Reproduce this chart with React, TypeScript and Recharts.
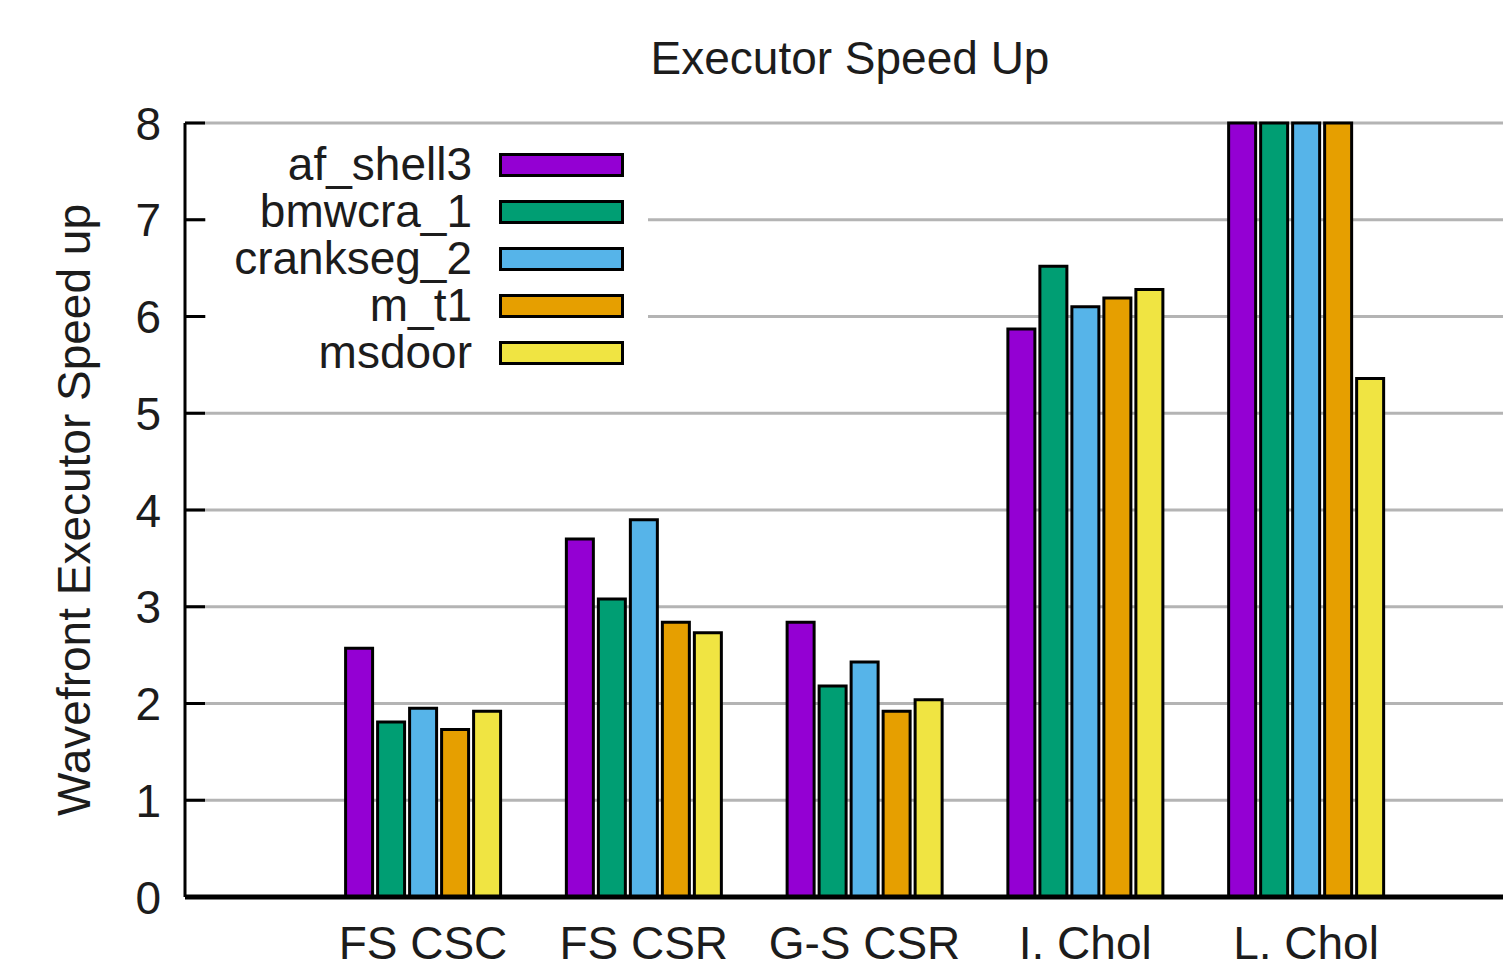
import React from 'react';
import { BarChart, Bar, XAxis, YAxis, CartesianGrid } from 'recharts';

const categories = ['FS CSC', 'FS CSR', 'G-S CSR', 'I. Chol', 'L. Chol'];
const afShell3 = [2.57, 3.7, 2.84, 5.87, 8];
const bmwcra1 = [1.81, 3.08, 2.18, 6.52, 8];
const crankseg2 = [1.95, 3.9, 2.43, 6.1, 8];
const mT1 = [1.73, 2.84, 1.92, 6.19, 8];
const msdoor = [1.92, 2.73, 2.04, 6.28, 5.36];
const yTicks = [0, 1, 2, 3, 4, 5, 6, 7, 8];

const series = [
  { key: 'af_shell3', values: afShell3, color: '#9400D3' },
  { key: 'bmwcra_1', values: bmwcra1, color: '#009E73' },
  { key: 'crankseg_2', values: crankseg2, color: '#56B4E9' },
  { key: 'm_t1', values: mT1, color: '#E69F00' },
  { key: 'msdoor', values: msdoor, color: '#F0E442' },
];

const data = categories.map((name, i) => {
  const row: Record<string, string | number> = { name };
  series.forEach(s => { row[s.key] = s.values[i]; });
  return row;
});

const FONT = '"Liberation Sans", Arial, sans-serif';
const TEXT = '#1c1c1c';

const YTick = (props: any) => {
  const { x, y, payload } = props;
  return (
    <g>
      <line x1={x} x2={x + 20} y1={y} y2={y} stroke="#000" strokeWidth={3} />
      <text x={x - 24} y={y} dy="0.36em" textAnchor="end" fontSize={46} fontFamily={FONT} fill={TEXT}>
        {payload.value}
      </text>
    </g>
  );
};

const XTick = (props: any) => {
  const { x, y, payload } = props;
  return (
    <text x={x} y={y + 54} textAnchor="middle" fontSize={46} fontFamily={FONT} fill={TEXT}>
      {payload.value}
    </text>
  );
};

// legend sits over the plot like gnuplot's opaque key box
const LegendBox = () => (
  <div
    style={{
      position: 'absolute',
      left: 206,
      top: 140,
      width: 442,
      height: 250,
      paddingTop: 1,
      background: '#fff',
      fontFamily: FONT,
      zIndex: 2,
    }}
  >
    {series.map(s => (
      <div key={s.key} style={{ display: 'flex', alignItems: 'center', height: 47 }}>
        <div style={{ width: 266, textAlign: 'right', fontSize: 46, color: TEXT, lineHeight: '47px' }}>{s.key}</div>
        <div
          style={{
            marginLeft: 27,
            width: 125,
            height: 24,
            boxSizing: 'border-box',
            border: '3px solid #000',
            background: s.color,
          }}
        />
      </div>
    ))}
  </div>
);

const App: React.FC = () => {
  return (
    <div style={{ position: 'absolute', left: 0, top: 0, width: 1503, height: 969, background: '#fff', overflow: 'hidden' }}>
      <div
        style={{
          position: 'absolute',
          left: 550,
          top: 30,
          width: 600,
          height: 56,
          lineHeight: '56px',
          textAlign: 'center',
          fontSize: 46,
          fontFamily: FONT,
          color: TEXT,
          zIndex: 2,
        }}
      >
        Executor Speed Up
      </div>
      <LegendBox />
      <BarChart
        width={1503}
        height={969}
        data={data}
        margin={{ top: 123, right: 0, left: 0, bottom: 0 }}
        barSize={27}
        barGap={5}
      >
        <CartesianGrid vertical={false} stroke="#b4b4b4" strokeWidth={3} />
        <XAxis
          dataKey="name"
          height={72}
          padding={{ left: 127.6, right: 86.6 }}
          axisLine={{ stroke: '#000', strokeWidth: 5 }}
          tickLine={false}
          tick={<XTick />}
          interval={0}
        />
        <YAxis
          width={185}
          domain={[0, 8]}
          ticks={yTicks}
          interval={0}
          axisLine={{ stroke: '#000', strokeWidth: 3 }}
          tickLine={false}
          tickSize={0}
          tickMargin={0}
          tick={<YTick />}
          label={{
            content: () => (
              <text
                x={74}
                y={510}
                transform="rotate(-90 74 510)"
                textAnchor="middle"
                dominantBaseline="central"
                fontSize={46}
                fontFamily={FONT}
                fill={TEXT}
              >
                Wavefront Executor Speed up
              </text>
            ),
          }}
        />
        {series.map(s => (
          <Bar
            key={s.key}
            dataKey={s.key}
            fill={s.color}
            stroke="#000"
            strokeWidth={3}
            isAnimationActive={false}
          />
        ))}
      </BarChart>
    </div>
  );
};

export default App;
